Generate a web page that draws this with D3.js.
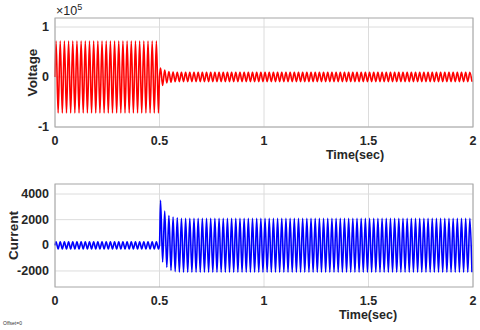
<!DOCTYPE html>
<html>
<head>
<meta charset="utf-8">
<script src="https://cdn.jsdelivr.net/npm/d3@7"></script>
<style>
  body { margin: 0; background: #fff; }
  text { font-family: "Liberation Sans", Arial, sans-serif; }
</style>
</head>
<body>
<div id="chart"></div>
<script>
// values
var timeTicks = [0, 0.5, 1, 1.5, 2];
var voltTicks = [-1e5, 0, 1e5];
var currTicks = [-2000, 0, 2000, 4000];
var halfPeriod = 0.01;              // 50 Hz, peak every 0.01 s
var switchTime = 0.5;

// voltage peaks (alternating +/-) before and after the switch
var voltPre = [72000, -72000];                  // repeats until 0.5 s
var voltPost = [18000, -17000, 14000, -12000, 11000, -10500, 10000, -9500];
var voltSteady = [9500, -9500];                 // repeats until 2 s

// current peaks before and after the switch
var currPre = [280, -280];
var currPost = [3500, -1300, 2670, -1710, 2330, -1950, 2200, -2050, 2150, -2080];
var currSteady = [2100, -2100];

// lay out the peak values on the half-period grid
function buildSeries(pre, post, steady) {
    var pts = [{t: 0, v: 0}];
    var t = halfPeriod / 2, k = 0;
    while (t < switchTime) {
        pts.push({t: t, v: pre[k % pre.length]});
        t += halfPeriod; k++;
    }
    pts.push({t: switchTime, v: 0});
    t = switchTime + halfPeriod / 2; k = 0;
    while (t < 2) {
        var v = k < post.length ? post[k] : steady[(k - post.length) % steady.length];
        pts.push({t: t, v: v});
        t += halfPeriod; k++;
    }
    return pts;
}

var w = 480, h = 330;
var svg = d3.select("#chart").append("svg")
    .attr("width", w)
    .attr("height", h);

function drawPanel(opts) {
    var x = d3.scaleLinear().domain([0, 2]).range([55, 473]);
    var y = d3.scaleLinear().domain(opts.domain).range([opts.bottom, opts.top]);
    var g = svg.append("g");

    // grid
    g.selectAll(".gx").data(timeTicks).enter().append("line")
        .attr("x1", function(d) { return x(d); })
        .attr("x2", function(d) { return x(d); })
        .attr("y1", opts.top).attr("y2", opts.bottom)
        .attr("stroke", "#dcdcdc").attr("stroke-width", 1);
    g.selectAll(".gy").data(opts.ticks).enter().append("line")
        .attr("x1", 55).attr("x2", 473)
        .attr("y1", function(d) { return y(d); })
        .attr("y2", function(d) { return y(d); })
        .attr("stroke", "#dcdcdc").attr("stroke-width", 1);

    // signal
    var line = d3.line()
        .x(function(d) { return x(d.t); })
        .y(function(d) { return y(d.v); })
        .curve(d3.curveMonotoneX);
    g.append("path")
        .datum(opts.data)
        .attr("d", line)
        .attr("fill", "none")
        .attr("stroke", opts.color)
        .attr("stroke-width", 1.6);

    // frame
    g.append("rect")
        .attr("x", 55).attr("y", opts.top)
        .attr("width", 418).attr("height", opts.bottom - opts.top)
        .attr("fill", "none").attr("stroke", "#a6a6a6").attr("stroke-width", 1);

    // x tick labels
    g.selectAll(".tx").data(timeTicks).enter().append("text")
        .attr("x", function(d) { return x(d); })
        .attr("y", opts.bottom + 18)
        .attr("text-anchor", "middle")
        .attr("font-size", 12.5).attr("font-weight", "bold")
        .attr("fill", "#262626")
        .text(function(d) { return d; });

    // y tick labels
    g.selectAll(".ty").data(opts.ticks).enter().append("text")
        .attr("x", 49)
        .attr("y", function(d) { return y(d) + 4; })
        .attr("text-anchor", "end")
        .attr("font-size", 12.5).attr("font-weight", "bold")
        .attr("fill", "#262626")
        .text(opts.fmt);

    // axis titles
    g.append("text")
        .attr("x", opts.xTitleX).attr("y", opts.bottom + 32)
        .attr("text-anchor", "middle")
        .attr("font-size", 12.5).attr("font-weight", "bold")
        .attr("fill", "#262626")
        .text("Time(sec)");
    g.append("text")
        .attr("transform", "translate(" + opts.yTitleX + "," + (opts.top + opts.bottom) / 2 + ") rotate(-90)")
        .attr("text-anchor", "middle")
        .attr("font-size", 13.5).attr("font-weight", "bold")
        .attr("fill", "#262626")
        .text(opts.yTitle);
}

drawPanel({
    top: 18, bottom: 127,
    domain: [-1e5, 1.18e5],
    ticks: voltTicks,
    fmt: function(d) { return d / 1e5; },
    data: buildSeries(voltPre, voltPost, voltSteady),
    color: "#ff0000",
    yTitle: "Voltage", yTitleX: 37, xTitleX: 355
});

drawPanel({
    top: 184, bottom: 287,
    domain: [-3250, 4780],
    ticks: currTicks,
    fmt: function(d) { return d; },
    data: buildSeries(currPre, currPost, currSteady),
    color: "#0000ff",
    yTitle: "Current", yTitleX: 18, xTitleX: 368
});

// exponent label
var ex = svg.append("text")
    .attr("x", 56).attr("y", 15)
    .attr("font-size", 12.5)
    .attr("fill", "#262626");
ex.append("tspan").text("\u00d710");
ex.append("tspan").attr("font-size", 9).attr("dy", -5).text("5");

svg.append("text")
    .attr("x", 3).attr("y", 325)
    .attr("font-size", 5)
    .attr("fill", "#333")
    .text("Offset=0");
</script>
</body>
</html>
